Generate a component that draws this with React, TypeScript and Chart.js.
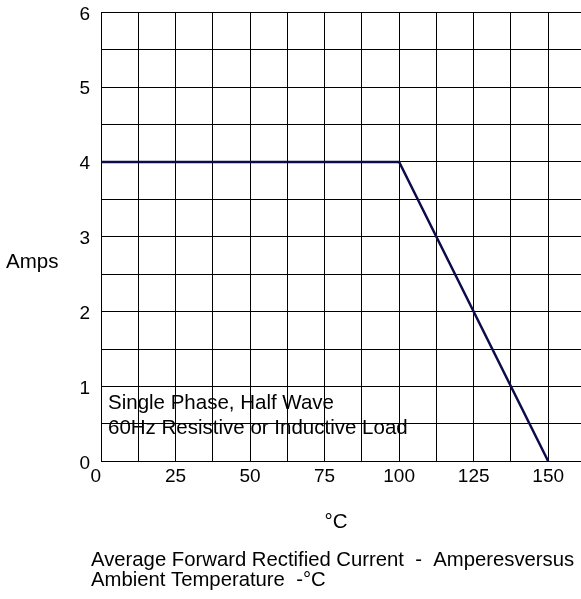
import React, { useEffect, useRef } from "react";
import { Chart, registerables } from "chart.js";

Chart.register(...registerables);

const temperatures = [0, 100, 150];
const amps = [4, 4, 0];
const xTickLabels = ["0", "25", "50", "75", "100", "125", "150"];
const yTickLabels = ["0", "1", "2", "3", "4", "5", "6"];
const yAxisLabel = "Amps";
const xAxisLabel = "°C";
const noteLines = ["Single Phase, Half Wave", "60Hz Resistive or Inductive Load"];
const captionLines = [
  "Average Forward Rectified Current  -  Amperesversus",
  "Ambient Temperature  -°C",
];

const FONT = "'Liberation Sans', Arial, sans-serif";

const textPlugin = {
  id: "customTexts",
  afterDraw(chart: any) {
    const { ctx, chartArea } = chart;
    const { left, bottom } = chartArea;
    ctx.save();
    ctx.fillStyle = "#000";
    ctx.font = `20.5px ${FONT}`;
    ctx.textBaseline = "alphabetic";
    ctx.textAlign = "left";
    // y axis label (horizontal)
    ctx.fillText(yAxisLabel, left - 95, 268);
    // note inside plot
    ctx.fillText(noteLines[0], left + 7, bottom - 52);
    ctx.fillText(noteLines[1], left + 7, bottom - 27);
    // x axis label
    ctx.textAlign = "center";
    ctx.fillText(xAxisLabel, left + 235, bottom + 67);
    // caption
    ctx.font = `20.3px ${FONT}`;
    ctx.textAlign = "left";
    ctx.fillText(captionLines[0], left - 10, bottom + 105);
    ctx.fillText(captionLines[1], left - 10, bottom + 125);
    ctx.restore();
  },
};

export default function App() {
  const canvasRef = useRef<HTMLCanvasElement | null>(null);

  useEffect(() => {
    if (!canvasRef.current) return;
    const chart = new Chart(canvasRef.current, {
      type: "line",
      data: {
        datasets: [
          {
            data: temperatures.map((t, i) => ({ x: t, y: amps[i] })),
            borderColor: "#0c0c4a",
            borderWidth: 2.5,
            pointRadius: 0,
            fill: false,
            tension: 0,
          },
        ],
      },
      options: {
        animation: false,
        responsive: true,
        maintainAspectRatio: false,
        layout: { padding: { top: 12.3, left: 0, right: 0, bottom: 0 } },
        plugins: {
          legend: { display: false },
          tooltip: { enabled: false },
          title: { display: false },
        },
        scales: {
          x: {
            type: "linear",
            min: 0,
            max: 161,
            grid: { color: "#000", lineWidth: 1, drawTicks: false },
            border: { color: "#000", width: 1 },
            afterFit: (scale: any) => {
              scale.height = 137.7;
              scale.paddingLeft = 0;
              scale.paddingRight = 0;
            },
            ticks: {
              stepSize: 12.5,
              includeBounds: false,
              autoSkip: false,
              maxRotation: 0,
              padding: 6,
              color: "#000",
              font: { family: FONT, size: 19, lineHeight: 1 },
              callback: (v: any) => {
                const n = Number(v);
                if (n % 25 !== 0) return "";
                const s = String(n);
                if (!xTickLabels.includes(s)) return "";
                return n === 0 ? s + "  " : s;
              },
            },
          },
          y: {
            type: "linear",
            min: 0,
            max: 6,
            grid: { color: "#000", lineWidth: 1, drawTicks: false },
            border: { color: "#000", width: 1 },
            afterFit: (scale: any) => {
              scale.width = 101;
              scale.paddingTop = 0;
              scale.paddingBottom = 0;
            },
            ticks: {
              stepSize: 0.5,
              autoSkip: false,
              padding: 11,
              labelOffset: 2,
              color: "#000",
              font: { family: FONT, size: 19, lineHeight: 1 },
              callback: (v: any) => {
                const n = Number(v);
                if (!Number.isInteger(n)) return "";
                const s = String(n);
                return yTickLabels.includes(s) ? s : "";
              },
            },
          },
        },
      },
      plugins: [textPlugin],
    });
    return () => chart.destroy();
  }, []);

  return (
    <div
      style={{
        position: "absolute",
        left: 0,
        top: 0,
        width: 581,
        height: 599,
        background: "#fff",
      }}
    >
      <canvas ref={canvasRef} />
    </div>
  );
}
